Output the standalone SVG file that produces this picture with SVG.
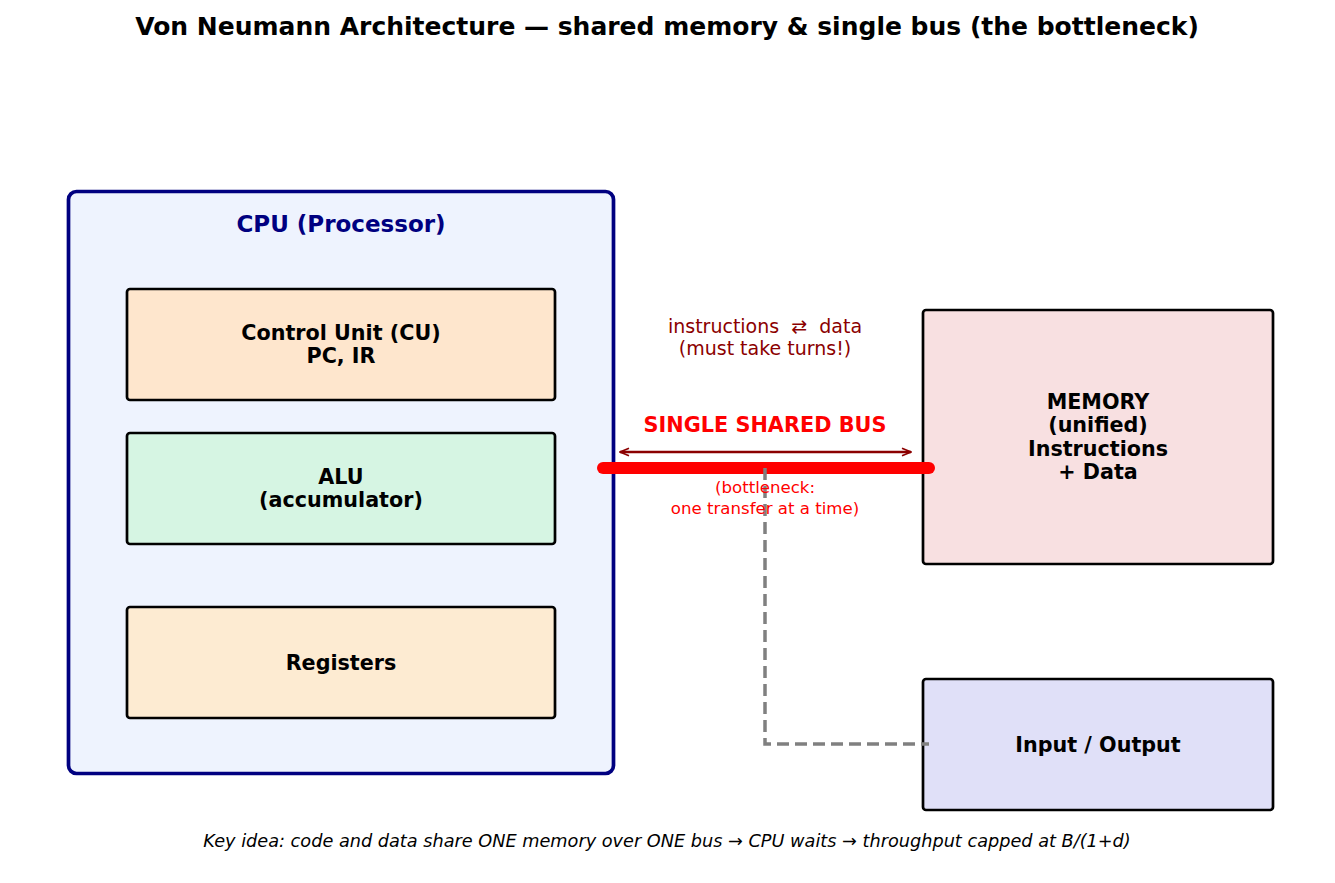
<svg xmlns="http://www.w3.org/2000/svg" width="1335" height="883" viewBox="0 0 1335 883">
<style>
text{font-family:"DejaVu Sans","Liberation Sans",sans-serif;text-anchor:middle;white-space:pre}
.box{stroke:#000;stroke-width:2.7}
.lbl{font-weight:bold;font-size:20.7px;fill:#000}
</style>
<defs>
<marker id="ah" viewBox="0 0 10 10" refX="9" refY="5" markerWidth="12" markerHeight="12" orient="auto-start-reverse" markerUnits="userSpaceOnUse">
<path d="M1.5,1.8 L9,5 L1.5,8.2" fill="none" stroke="#8b0000" stroke-width="1.4"/>
</marker>
</defs>
<rect width="1335" height="883" fill="#fff"/>
<text x="667" y="35" font-size="25" font-weight="bold">Von Neumann Architecture — shared memory &amp; single bus (the bottleneck)</text>
<g id="cpu">
<rect x="68.5" y="191.5" width="545" height="582" rx="8" fill="#eef3fe" stroke="#000080" stroke-width="3.7"/>
<text x="341" y="232" font-size="23" font-weight="bold" fill="#000080">CPU (Processor)</text>
</g>
<g id="cu">
<rect class="box" x="127" y="289" width="428" height="111" rx="3" fill="#fee6cd"/>
<text class="lbl" x="341" y="340">Control Unit (CU)</text>
<text class="lbl" x="341" y="363">PC, IR</text>
</g>
<g id="alu">
<rect class="box" x="127" y="433" width="428" height="111" rx="3" fill="#d6f5e3"/>
<text class="lbl" x="341" y="484">ALU</text>
<text class="lbl" x="341" y="507">(accumulator)</text>
</g>
<g id="registers">
<rect class="box" x="127" y="607" width="428" height="111" rx="3" fill="#fdebd2"/>
<text class="lbl" x="341" y="670">Registers</text>
</g>
<g id="memory">
<rect class="box" x="923" y="310" width="350" height="254" rx="3" fill="#f8e0e1"/>
<text class="lbl" x="1098" y="409">MEMORY</text>
<text class="lbl" x="1098" y="432">(unified)</text>
<text class="lbl" x="1098" y="456">Instructions</text>
<text class="lbl" x="1098" y="479">+ Data</text>
</g>
<g id="io">
<rect class="box" x="923" y="679" width="350" height="131" rx="3" fill="#e0e0f8"/>
<text class="lbl" x="1098" y="752">Input / Output</text>
</g>
<g id="connectors">
<line x1="603" y1="468" x2="929" y2="468" stroke="#ff0000" stroke-width="12" stroke-linecap="round"/>
<path d="M765,468 V744 H929" fill="none" stroke="#808080" stroke-width="3.5" stroke-dasharray="12,6"/>
<line x1="620" y1="452" x2="911" y2="452" stroke="#8b0000" stroke-width="2.4" marker-start="url(#ah)" marker-end="url(#ah)"/>
</g>
<g id="bus-labels">
<text x="765" y="432" font-size="20.8" font-weight="bold" fill="#ff0000">SINGLE SHARED BUS</text>
<text x="765" y="333" font-size="19" fill="#8b0000" xml:space="preserve">instructions  ⇄  data</text>
<text x="765" y="355" font-size="19" fill="#8b0000">(must take turns!)</text>
<text x="765" y="493" font-size="16.6" fill="#ff0000">(bottleneck:</text>
<text x="765" y="514" font-size="16.6" fill="#ff0000">one transfer at a time)</text>
</g>
<text x="667" y="847" font-size="17.7" font-style="italic">Key idea: code and data share ONE memory over ONE bus → CPU waits → throughput capped at B/(1+d)</text>
</svg>
